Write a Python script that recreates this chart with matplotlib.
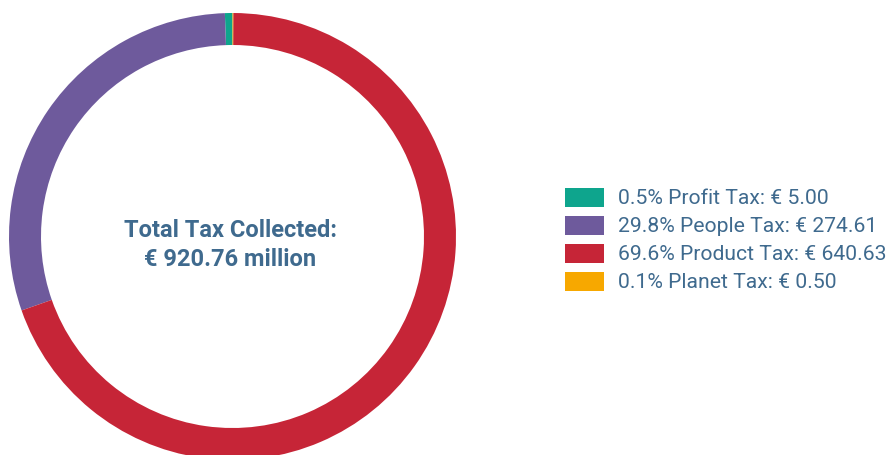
import matplotlib
matplotlib.use('Agg')
import matplotlib.pyplot as plt
from matplotlib.patches import Rectangle

labels = ['Profit Tax', 'People Tax', 'Product Tax', 'Planet Tax']
values = [5.00, 274.61, 640.63, 0.50]
percents = [0.5, 29.8, 69.6, 0.1]
colors = ['#0ea58d', '#6e5a9c', '#c62537', '#f7a800']
total = 920.76

text_color = '#3f6a8e'
plt.rcParams['font.family'] = ['Roboto', 'DejaVu Sans']

fig = plt.figure(figsize=(8.93, 4.56), dpi=100)

# donut placed in pixel terms: centre (232.5, 237.5), radius 223.5
W, H = 893, 456
cx, cy, r = 232.5, 237.5, 223.5
ax = fig.add_axes([(cx - r) / W, (H - cy - r) / H, 2 * r / W, 2 * r / H])
ax.pie(values, colors=colors, startangle=90, counterclock=True, radius=1,
       wedgeprops=dict(width=32 / r, linewidth=0))
ax.set_xlim(-1, 1)
ax.set_ylim(-1, 1)
ax.set_aspect('equal')
ax.axis('off')

ax.text(-0.01, 0.03, 'Total Tax Collected:', ha='center', va='center',
        fontsize=17, fontweight='bold', color=text_color)
ax.text(-0.01, -0.10, f'€ {total:.2f} million', ha='center', va='center',
        fontsize=17, fontweight='bold', color=text_color)

# legend
y0 = 198.5
step = 28
for i, (lab, val, pct, col) in enumerate(zip(labels, values, percents, colors)):
    yc = y0 + i * step
    fig.patches.append(Rectangle((565 / W, (H - yc - 9.5) / H), 39 / W, 19 / H,
                                 transform=fig.transFigure, color=col, linewidth=0))
    fig.text(618 / W, (H - yc) / H, f'{pct}% {lab}: € {val:.2f}', ha='left', va='center',
             fontsize=15.2, color=text_color)

fig.savefig('out.png', dpi=100)
